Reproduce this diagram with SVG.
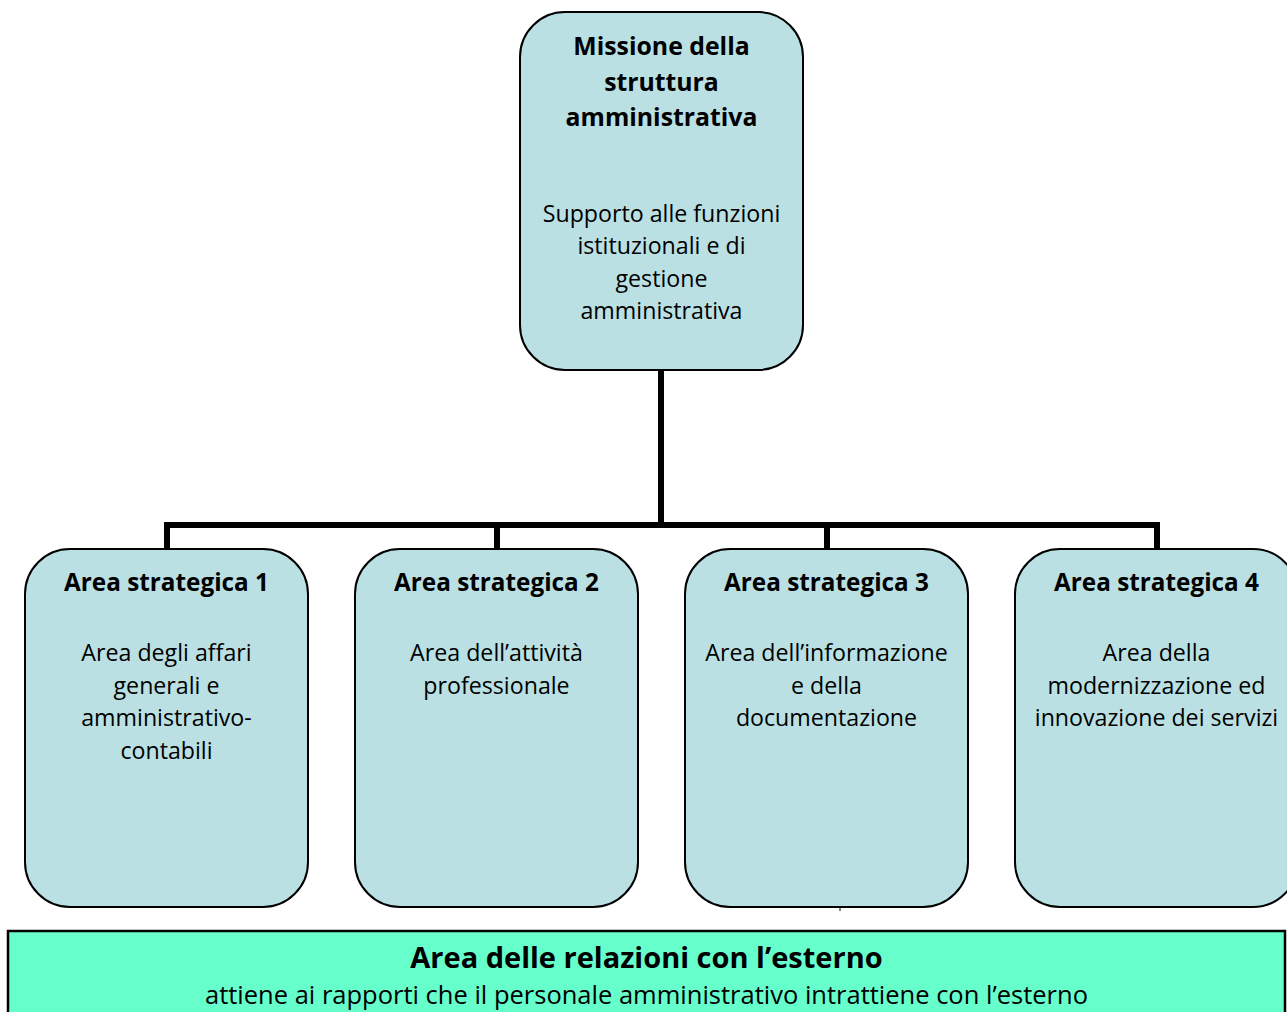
<svg xmlns="http://www.w3.org/2000/svg" width="1287" height="1012" viewBox="0 0 1287 1012">
<style>
.box{fill:#BAE0E3;stroke:#000;stroke-width:2}
.conn{fill:none;stroke:#000;stroke-width:6;stroke-linecap:square}
.t{font-family:"Open Sans","Liberation Sans",sans-serif;text-anchor:middle;fill:#000}
.b{font-weight:bold;font-size:24.3px}
.m{font-weight:bold;font-size:24.8px}
.n{font-size:23.2px}
.bar{fill:#66FFCC;stroke:#000;stroke-width:2.5}
</style>
<rect x="0" y="0" width="1287" height="1012" fill="#fff"/>
<g id="connectors">
<path class="conn" d="M661 371 V525 M167 525 H1157 M167 525 V548 M497 525 V548 M827 525 V548 M1157 525 V548"/>
</g>
<g id="mission">
<rect class="box" x="520" y="12" width="283" height="358" rx="45" ry="45"/>
<text class="t m"><tspan x="661.5" y="55">Missione della</tspan><tspan x="661.5" y="91">struttura</tspan><tspan x="661.5" y="126">amministrativa</tspan></text>
<text class="t n"><tspan x="661.5" y="222">Supporto alle funzioni</tspan><tspan x="661.5" y="254">istituzionali e di</tspan><tspan x="661.5" y="287">gestione</tspan><tspan x="661.5" y="319">amministrativa</tspan></text>
</g>
<g id="area1">
<rect class="box" x="25" y="549" width="283" height="358" rx="45" ry="45"/>
<text class="t b" x="166.5" y="591">Area strategica 1</text>
<text class="t n"><tspan x="166.5" y="661">Area degli affari</tspan><tspan x="166.5" y="694">generali e</tspan><tspan x="166.5" y="726">amministrativo-</tspan><tspan x="166.5" y="759">contabili</tspan></text>
</g>
<g id="area2">
<rect class="box" x="355" y="549" width="283" height="358" rx="45" ry="45"/>
<text class="t b" x="496.5" y="591">Area strategica 2</text>
<text class="t n"><tspan x="496.5" y="661">Area dell’attività</tspan><tspan x="496.5" y="694">professionale</tspan></text>
</g>
<g id="area3">
<rect class="box" x="685" y="549" width="283" height="358" rx="45" ry="45"/>
<line x1="840" y1="907" x2="840" y2="911" stroke="#000" stroke-width="1"/>
<text class="t b" x="826.5" y="591">Area strategica 3</text>
<text class="t n"><tspan x="826.5" y="661">Area dell’informazione</tspan><tspan x="826.5" y="694">e della</tspan><tspan x="826.5" y="726">documentazione</tspan></text>
</g>
<g id="area4">
<rect class="box" x="1015" y="549" width="283" height="358" rx="45" ry="45"/>
<text class="t b" x="1156.5" y="591">Area strategica 4</text>
<text class="t n"><tspan x="1156.5" y="661">Area della</tspan><tspan x="1156.5" y="694">modernizzazione ed</tspan><tspan x="1156.5" y="726">innovazione dei servizi</tspan></text>
</g>
<g id="external">
<rect class="bar" x="8" y="931" width="1277" height="100"/>
<text class="t" x="646.5" y="968" font-weight="bold" font-size="29">Area delle relazioni con l’esterno</text>
<text class="t" x="646.5" y="1004" font-size="25.5">attiene ai rapporti che il personale amministrativo intrattiene con l’esterno</text>
</g>
</svg>
